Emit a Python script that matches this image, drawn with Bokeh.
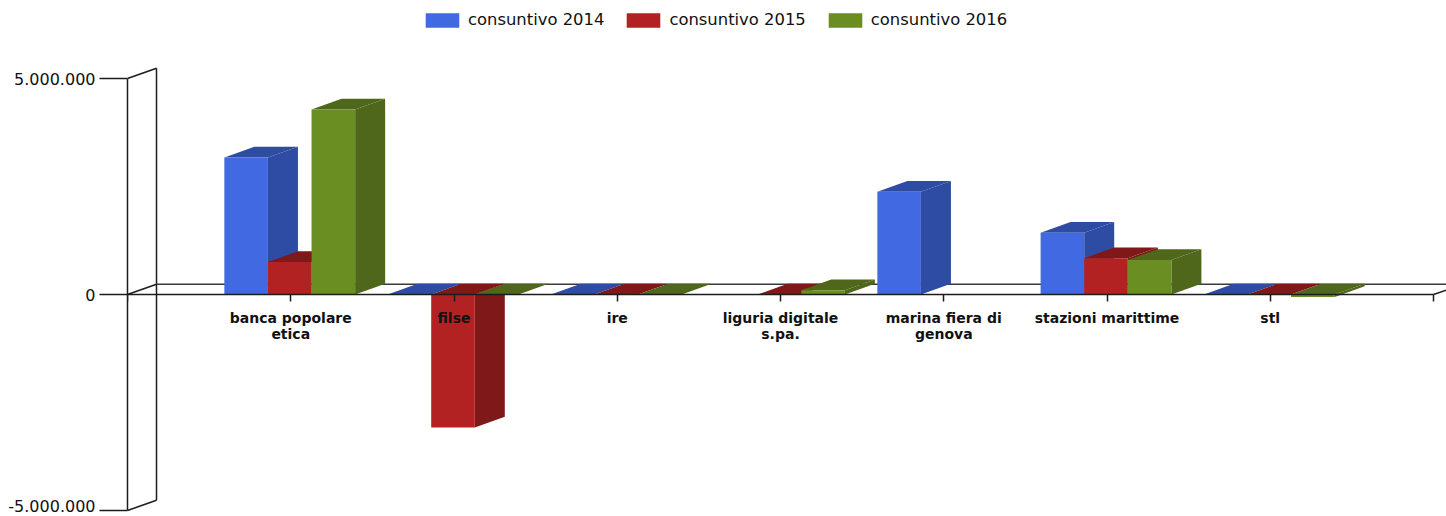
from bokeh.plotting import figure
from bokeh.models import Range1d, FixedTicker, Legend, LegendItem, ColumnDataSource, LinearAxis
from bokeh.embed import file_html
from bokeh.resources import INLINE

categories = ["banca popolare\netica", "filse", "ire", "liguria digitale\ns.pa.",
              "marina fiera di\ngenova", "stazioni marittime", "stl"]
series_names = ["consuntivo 2014", "consuntivo 2015", "consuntivo 2016"]
consuntivo_2014 = [3170000, 0, 0, None, 2380000, 1430000, 0]
consuntivo_2015 = [750000, -3080000, 0, 0, None, 840000, 0]
consuntivo_2016 = [4280000, 0, 0, 100000, None, 800000, -60000]
series_values = [consuntivo_2014, consuntivo_2015, consuntivo_2016]
front_colors = ["#4169E1", "#B22222", "#6B8E23"]
dark_colors = ["#2F4CA4", "#7F1818", "#4E671A"]
y_tick_values = [-5000000, 0, 5000000]
y_tick_labels = ["-5.000.000", "0", "5.000.000"]

INK = "#1c1c1c"
PX_X = 163.25            # pixels per category
PX_Y = 216 / 5000000     # pixels per unit of value
DX = 30 / PX_X           # 3D depth in data units
DY = 10.8 / PX_Y
WALL_DX = 29 / PX_X
WALL_DY = 10.2 / PX_Y
BAR_W = 43.6 / PX_X
BAR_SHIFT = -1 / PX_X
WALL_MIN, WALL_MAX = y_tick_values[0], y_tick_values[-1]

LEFT, W, H = 127, 1446, 516
x_end = (W - LEFT) / PX_X
y_end = 294 / PX_Y
y_start = (294 - H) / PX_Y

p = figure(width=W, height=H, output_backend="svg", toolbar_location=None,
           x_range=Range1d(0, x_end), y_range=Range1d(y_start, y_end),
           min_border_left=LEFT, min_border_right=0, min_border_top=0, min_border_bottom=0,
           outline_line_color=None, background_fill_color="white", border_fill_color="white")
p.grid.visible = False

# 3D wall and floor
wall_y = WALL_MAX + WALL_DY
p.segment(x0=[WALL_DX, 0, 0, WALL_DX, 8],
          y0=[WALL_MIN + WALL_DY, WALL_MAX, WALL_MIN, WALL_DY, 0],
          x1=[WALL_DX, WALL_DX, WALL_DX, 0, x_end],
          y1=[wall_y, wall_y, WALL_MIN + WALL_DY, 0, (x_end - 8) * PX_X * 10.2 / 30 / PX_Y],
          line_color=INK, line_width=1.5)
p.segment(x0=[WALL_DX], y0=[WALL_DY], x1=[x_end], y1=[WALL_DY], line_color="#3a3a3a", line_width=1.5)

# bars
legend_items = []
for s, vals in enumerate(series_values):
    lefts, rights, tops, bottoms = [], [], [], []
    side_x, side_y, top_x, top_y = [], [], [], []
    for c, v in enumerate(vals):
        if v is None:
            continue
        x0 = (c + 1) + (s - 1.5) * BAR_W + BAR_SHIFT
        x1 = x0 + BAR_W
        hi, lo = max(v, 0), min(v, 0)
        lefts.append(x0); rights.append(x1); tops.append(hi); bottoms.append(lo)
        side_x.append([x1, x1 + DX, x1 + DX, x1])
        side_y.append([lo, lo + DY, hi + DY, hi])
        top_x.append([x0, x1, x1 + DX, x0 + DX])
        top_y.append([hi, hi, hi + DY, hi + DY])
    p.patches(side_x, side_y, fill_color=dark_colors[s], line_color=None)
    p.patches(top_x, top_y, fill_color=dark_colors[s], line_color=None)
    src = ColumnDataSource(dict(left=lefts, right=rights, top=tops, bottom=bottoms))
    r = p.quad(left="left", right="right", top="top", bottom="bottom", source=src,
               fill_color=front_colors[s], line_color=None)
    legend_items.append(LegendItem(label=series_names[s], renderers=[r]))

# axes
xa = p.xaxis[0]
xa.fixed_location = 0
xa.bounds = (0, 8)
xa.ticker = FixedTicker(ticks=list(range(0, len(categories) + 2)))
overrides = {i + 1: c for i, c in enumerate(categories)}
overrides[0] = ""
overrides[len(categories) + 1] = ""
xa.major_label_overrides = overrides
xa.major_label_text_font = "DejaVu Sans"
xa.major_label_text_font_size = "14px"
xa.major_label_text_font_style = "bold"
xa.major_label_text_color = "#111111"
xa.major_label_text_line_height = 1.05
xa.major_label_standoff = 8
xa.major_tick_in = 0
xa.major_tick_out = 7
xa.minor_tick_line_color = None
xa.axis_line_color = INK
xa.axis_line_width = 1.5
xa.major_tick_line_color = INK
xa.major_tick_line_width = 1.5

# inner axis: line and tick marks only
ya = p.yaxis[0]
ya.bounds = (WALL_MIN, WALL_MAX)
ya.ticker = FixedTicker(ticks=y_tick_values)
ya.major_label_overrides = {v: "" for v in y_tick_values}
ya.major_label_standoff = 0
ya.major_tick_in = 0
ya.major_tick_out = 28
ya.minor_tick_line_color = None
ya.axis_line_color = INK
ya.axis_line_width = 1.5
ya.major_tick_line_color = INK
ya.major_tick_line_width = 1.5

# outer axis: the tick labels; the lowest sits a little higher so that it stays inside the page
label_positions = [WALL_MIN + 4.2 / PX_Y, 0, WALL_MAX]
ya2 = LinearAxis(ticker=FixedTicker(ticks=label_positions),
                 major_label_overrides=dict(zip(label_positions, y_tick_labels)),
                 major_label_text_font="DejaVu Sans", major_label_text_font_size="16px",
                 major_label_text_color="#111111", major_label_standoff=4,
                 major_tick_in=0, major_tick_out=0, major_tick_line_color=None,
                 minor_tick_line_color=None, axis_line_color=None)
p.add_layout(ya2, "left")

legend = Legend(items=legend_items, orientation="horizontal", location=(294, 487),
                padding=0, margin=0, spacing=18, label_standoff=5,
                glyph_width=42, glyph_height=18,
                border_line_color=None, background_fill_alpha=0,
                label_text_font="DejaVu Sans", label_text_font_size="16.4px",
                label_text_color="#111111")
p.add_layout(legend)

open("out.html", "w").write(file_html(p, INLINE))
